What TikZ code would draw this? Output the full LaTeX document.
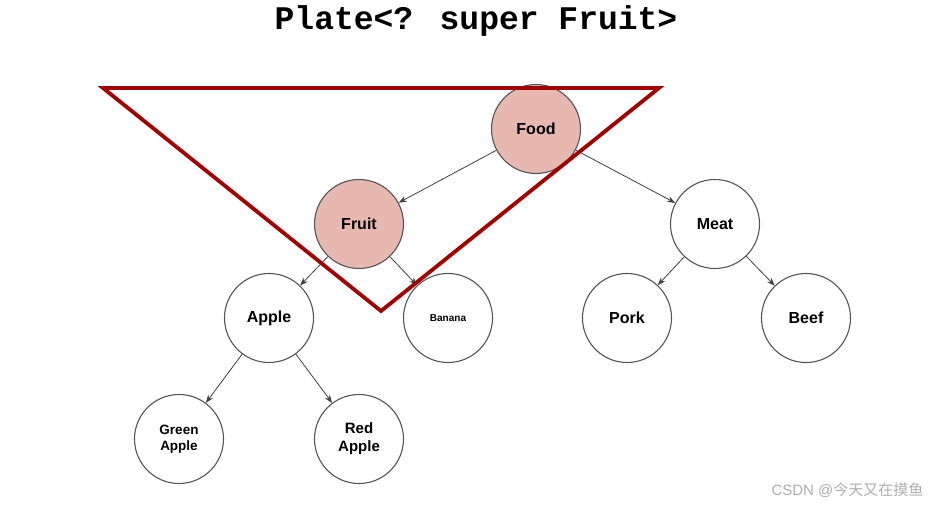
\documentclass[tikz,border=0pt]{standalone}
\usepackage{fontspec}
\setmainfont{Liberation Sans}
\newfontfamily\titlefont{Liberation Mono}
\newfontfamily\cjk{Noto Sans CJK SC}
\usetikzlibrary{arrows.meta}
\definecolor{nodefill}{HTML}{E6B8AF}
\definecolor{tri}{HTML}{A30000}
\definecolor{edgec}{HTML}{404040}
\definecolor{borderc}{HTML}{555555}
\tikzset{
  tn/.style={circle, draw=borderc, line width=1.1pt, minimum size=89pt, inner sep=0pt, align=center, font=\bfseries\fontsize{16}{18}\selectfont},
  hl/.style={tn, fill=nodefill},
  ed/.style={draw=edgec, line width=0.8pt, -{Stealth[length=8pt,width=6pt]}},
}
\begin{document}
\begin{tikzpicture}[x=1pt,y=-1pt]
\useasboundingbox (0,0) rectangle (931,506);
\node (title) at (476,21) {\titlefont\bfseries\fontsize{33}{36}\selectfont Plate<? super Fruit>};
\node[hl] (food) at (536,129) {Food};
\node[hl] (fruit) at (359,224) {Fruit};
\node[tn] (meat) at (715,224) {Meat};
\node[tn] (apple) at (269,318) {Apple};
\node[tn, font=\bfseries\fontsize{10}{12}\selectfont] (banana) at (448,318) {Banana};
\node[tn] (pork) at (627,318) {Pork};
\node[tn] (beef) at (806,318) {Beef};
\node[tn, font=\bfseries\fontsize{13.5}{16}\selectfont] (green) at (179,439) {Green\\Apple};
\node[tn, font=\bfseries\fontsize{15}{18}\selectfont] (red) at (359,439) {Red\\Apple};
\draw[ed] (food) -- (fruit);
\draw[ed] (food) -- (meat);
\draw[ed] (fruit) -- (apple);
\draw[ed] (fruit) -- (banana);
\draw[ed] (meat) -- (pork);
\draw[ed] (meat) -- (beef);
\draw[ed] (apple) -- (green);
\draw[ed] (apple) -- (red);
\coordinate (t1) at (103,88);
\coordinate (t2) at (659,88);
\coordinate (t3) at (381,311);
\draw[tri, line width=3.8pt, line join=miter] (t1) -- (t2) -- (t3) -- cycle;
\node[text=black!32, anchor=east] (wm) at (927,490) {\fontsize{15}{18}\selectfont CSDN @\cjk 今天又在摸鱼};
\end{tikzpicture}
\end{document}
